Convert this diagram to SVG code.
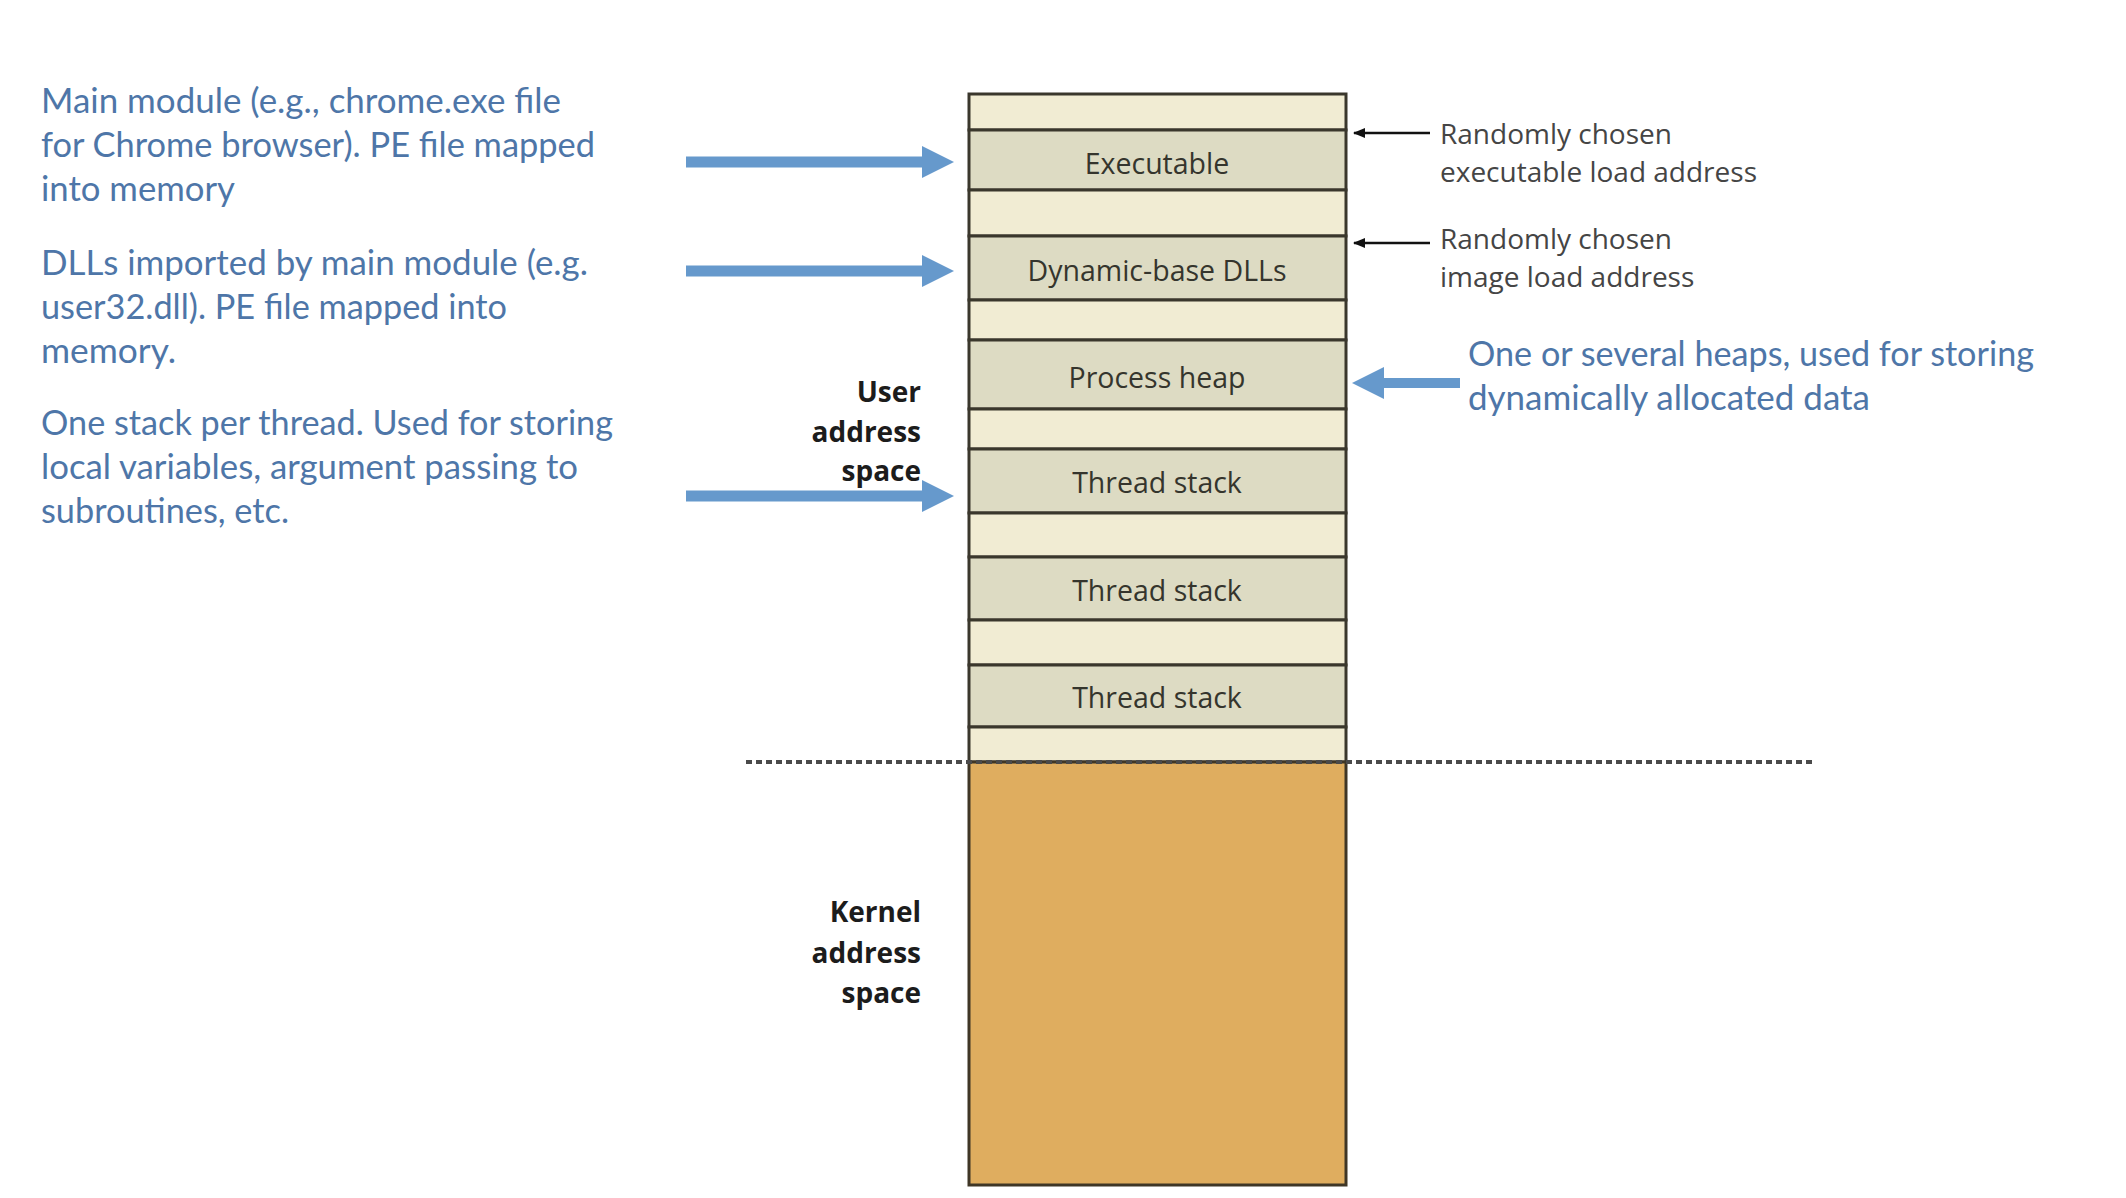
<svg xmlns="http://www.w3.org/2000/svg" width="2126" height="1198" viewBox="0 0 2126 1198">
<style>
.lt{fill:#F1ECD3;stroke:#3a372c;stroke-width:3}
.dk{fill:#DDDBC3;stroke:#3a372c;stroke-width:3}
.kr{fill:#DFAD5F;stroke:#3f3626;stroke-width:3}
.bx{font-family:"Open Sans","Noto Sans",sans-serif;font-size:28.5px;fill:#35352d;text-anchor:middle}
.side{font-family:"Open Sans","Noto Sans",sans-serif;font-size:28px;font-weight:bold;fill:#1c1c1c;text-anchor:end}
.gray{font-family:"Open Sans","Noto Sans",sans-serif;font-size:28px;fill:#454545}
.blue{font-family:Lato,"Open Sans",sans-serif;font-size:35px;fill:#4E76A8}
.barrow{fill:#6699CC}
</style>
<defs>
<marker id="ah" viewBox="0 0 10 10" refX="9" refY="5" markerWidth="5" markerHeight="5" orient="auto" markerUnits="strokeWidth">
<path d="M0,1 L10,5 L0,9 Z" fill="#111"/>
</marker>
</defs>
<rect x="0" y="0" width="2126" height="1198" fill="#fff"/>

<g id="memory-column">
<g id="gap-1"><rect class="lt" x="969" y="94" width="377" height="36"/></g>
<g id="executable"><rect class="dk" x="969" y="130" width="377" height="60"/><text class="bx" x="1157" y="174">Executable</text></g>
<g id="gap-2"><rect class="lt" x="969" y="190" width="377" height="46"/></g>
<g id="dlls"><rect class="dk" x="969" y="236" width="377" height="64"/><text class="bx" x="1157" y="281">Dynamic-base DLLs</text></g>
<g id="gap-3"><rect class="lt" x="969" y="300" width="377" height="40"/></g>
<g id="process-heap"><rect class="dk" x="969" y="340" width="377" height="69"/><text class="bx" x="1157" y="388">Process heap</text></g>
<g id="gap-4"><rect class="lt" x="969" y="409" width="377" height="40"/></g>
<g id="thread-stack-1"><rect class="dk" x="969" y="449" width="377" height="64"/><text class="bx" x="1157" y="493">Thread stack</text></g>
<g id="gap-5"><rect class="lt" x="969" y="513" width="377" height="44"/></g>
<g id="thread-stack-2"><rect class="dk" x="969" y="557" width="377" height="63"/><text class="bx" x="1157" y="601">Thread stack</text></g>
<g id="gap-6"><rect class="lt" x="969" y="620" width="377" height="45"/></g>
<g id="thread-stack-3"><rect class="dk" x="969" y="665" width="377" height="62"/><text class="bx" x="1157" y="708">Thread stack</text></g>
<g id="gap-7"><rect class="lt" x="969" y="727" width="377" height="35"/></g>
<g id="kernel"><rect class="kr" x="969" y="762" width="377" height="423"/></g>
</g>

<g id="boundary">
<line x1="746" y1="762" x2="1812" y2="762" stroke="#4a4a4a" stroke-width="4" stroke-dasharray="6 4"/>
</g>

<g id="user-label">
<text class="side" x="921" y="402">User</text>
<text class="side" x="921" y="442">address</text>
<text class="side" x="921" y="481">space</text>
</g>
<g id="kernel-label">
<text class="side" x="921" y="922">Kernel</text>
<text class="side" x="921" y="963">address</text>
<text class="side" x="921" y="1003">space</text>
</g>

<g id="note-exe-addr">
<text class="gray" x="1440" y="144">Randomly chosen</text>
<text class="gray" x="1440" y="182">executable load address</text>
</g>
<g id="note-img-addr">
<text class="gray" x="1440" y="249">Randomly chosen</text>
<text class="gray" x="1440" y="287">image load address</text>
</g>

<g id="note-main-module">
<text class="blue" x="41" y="113" textLength="520" lengthAdjust="spacingAndGlyphs">Main module (e.g., chrome.exe file</text>
<text class="blue" x="41" y="157" textLength="554" lengthAdjust="spacingAndGlyphs">for Chrome browser). PE file mapped</text>
<text class="blue" x="41" y="201" textLength="194" lengthAdjust="spacingAndGlyphs">into memory</text>
</g>
<g id="note-dlls">
<text class="blue" x="41" y="275" textLength="547" lengthAdjust="spacingAndGlyphs">DLLs imported by main module (e.g.</text>
<text class="blue" x="41" y="319" textLength="466" lengthAdjust="spacingAndGlyphs">user32.dll). PE file mapped into</text>
<text class="blue" x="41" y="363" textLength="135" lengthAdjust="spacingAndGlyphs">memory.</text>
</g>
<g id="note-stack">
<text class="blue" x="41" y="435" textLength="572" lengthAdjust="spacingAndGlyphs">One stack per thread. Used for storing</text>
<text class="blue" x="41" y="479" textLength="537" lengthAdjust="spacingAndGlyphs">local variables, argument passing to</text>
<text class="blue" x="41" y="523" textLength="248" lengthAdjust="spacingAndGlyphs">subroutines, etc.</text>
</g>
<g id="note-heap">
<text class="blue" x="1468" y="366" textLength="566" lengthAdjust="spacingAndGlyphs">One or several heaps, used for storing</text>
<text class="blue" x="1468" y="410" textLength="402" lengthAdjust="spacingAndGlyphs">dynamically allocated data</text>
</g>

<g id="connectors">
<path class="barrow" d="M686,156.5 H922 V146 L954,162 L922,178 V167.5 H686 Z"/>
<path class="barrow" d="M686,265.5 H922 V255 L954,271 L922,287 V276.5 H686 Z"/>
<path class="barrow" d="M686,490.5 H922 V480 L954,496 L922,512 V501.5 H686 Z"/>
<path class="barrow" d="M1460,378 H1384 V367 L1352,383 L1384,399 V388 H1460 Z"/>
<line x1="1430" y1="133" x2="1354" y2="133" stroke="#111" stroke-width="2.5" marker-end="url(#ah)"/>
<line x1="1430" y1="243" x2="1354" y2="243" stroke="#111" stroke-width="2.5" marker-end="url(#ah)"/>
</g>
</svg>
